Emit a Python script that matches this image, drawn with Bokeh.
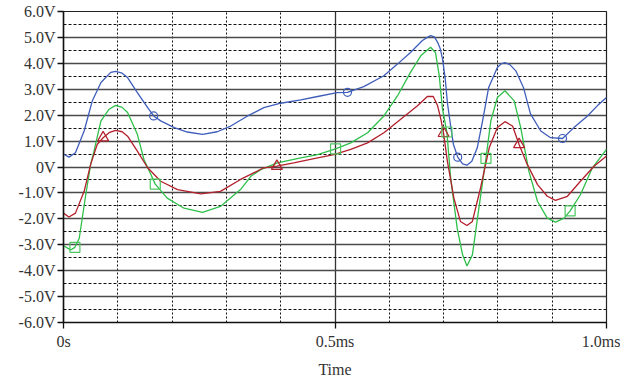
from bokeh.plotting import figure
from bokeh.models import FixedTicker, CustomJSTickFormatter
from bokeh.embed import file_html
from bokeh.resources import INLINE

# ---- data (time in ms, voltage in V) ----
t_blue = [0.0, 0.010, 0.022, 0.038, 0.053, 0.069, 0.087, 0.096, 0.108, 0.118, 0.136, 0.155, 0.166,
          0.179, 0.204, 0.228, 0.256, 0.283, 0.308, 0.339, 0.369, 0.400, 0.437, 0.468, 0.504,
          0.523, 0.553, 0.590, 0.615, 0.639, 0.661, 0.670, 0.676, 0.683, 0.689, 0.694, 0.698, 0.703,
          0.707, 0.713, 0.718, 0.726, 0.735, 0.743, 0.752, 0.762, 0.772, 0.783, 0.799, 0.806, 0.813,
          0.822, 0.833, 0.847, 0.860, 0.879, 0.897, 0.919, 0.940, 0.965, 0.983, 1.0]
v_blue = [0.50, 0.38, 0.55, 1.39, 2.55, 3.26, 3.65, 3.69, 3.62, 3.45, 2.87, 2.29, 1.97,
          1.78, 1.52, 1.35, 1.26, 1.36, 1.58, 1.97, 2.29, 2.46, 2.59, 2.72, 2.87,
          2.88, 3.10, 3.52, 3.97, 4.42, 4.88, 5.00, 5.07, 5.02, 4.81, 4.55, 4.17, 3.40,
          2.48, 1.58, 0.88, 0.38, 0.12, 0.07, 0.22, 0.74, 1.80, 3.07, 3.84, 3.98, 4.03,
          3.95, 3.71, 3.07, 2.05, 1.39, 1.13, 1.10, 1.52, 1.97, 2.36, 2.68]

t_red = [0.0, 0.010, 0.022, 0.038, 0.050, 0.062, 0.073, 0.085, 0.096, 0.108, 0.118, 0.136, 0.155, 0.179,
         0.210, 0.253, 0.289, 0.326, 0.369, 0.393, 0.424, 0.468, 0.498, 0.529, 0.560, 0.590,
         0.621, 0.652, 0.670, 0.681, 0.689, 0.695, 0.700, 0.707, 0.719, 0.731, 0.743, 0.753,
         0.768, 0.784, 0.799, 0.813, 0.827, 0.839, 0.854, 0.873, 0.891, 0.906, 0.928, 0.952,
         0.977, 1.0]
v_red = [-1.78, -1.93, -1.78, -0.94, 0.10, 0.87, 1.13, 1.34, 1.41, 1.36, 1.19, 0.61, -0.03, -0.55,
         -0.87, -1.04, -0.94, -0.48, -0.03, 0.03, 0.16, 0.35, 0.48, 0.68, 0.93, 1.32,
         1.84, 2.36, 2.72, 2.72, 2.36, 1.84, 1.30, 0.22, -1.20, -2.10, -2.26, -2.10,
         -0.81, 0.74, 1.52, 1.75, 1.58, 0.87, 0.10, -0.68, -1.13, -1.29, -1.13, -0.55,
         0.03, 0.42]

t_green = [0.0, 0.013, 0.021, 0.029, 0.041, 0.050, 0.056, 0.069, 0.084, 0.096, 0.108, 0.118, 0.136,
           0.148, 0.169, 0.191, 0.222, 0.256, 0.289, 0.326, 0.345, 0.363, 0.394, 0.437, 0.468,
           0.501, 0.529, 0.560, 0.590, 0.615, 0.639, 0.658, 0.676, 0.685, 0.692, 0.698, 0.706,
           0.713, 0.725, 0.735, 0.743, 0.753, 0.765, 0.778, 0.787, 0.799, 0.813, 0.830, 0.842,
           0.857, 0.873, 0.891, 0.906, 0.922, 0.933, 0.952, 0.974, 1.0]
v_green = [-3.04, -3.20, -3.10, -2.75, -1.07, 0.10, 0.60, 1.78, 2.23, 2.38, 2.30, 2.10, 1.26,
           0.30, -0.66, -1.20, -1.59, -1.75, -1.52, -0.87, -0.36, -0.10, 0.16, 0.35, 0.48,
           0.70, 0.93, 1.32, 1.97, 2.74, 3.65, 4.29, 4.62, 4.42, 3.52, 2.23, 1.35,
           -0.42, -2.36, -3.39, -3.82, -3.39, -1.59, 0.33, 1.78, 2.68, 2.94, 2.55, 1.52,
           -0.16, -1.33, -1.97, -2.13, -1.97, -1.69, -1.07, -0.03, 0.68]

# marker positions
mt_blue = [0.166, 0.523, 0.726, 0.919]
mv_blue = [1.97, 2.88, 0.38, 1.10]
mt_red = [0.073, 0.393, 0.700, 0.839]
mv_red = [1.13, 0.03, 1.30, 0.87]
mt_green = [0.021, 0.169, 0.501, 0.706, 0.778, 0.933]
mv_green = [-3.10, -0.66, 0.70, 1.35, 0.33, -1.69]

y_ticks = [-6, -5, -4, -3, -2, -1, 0, 1, 2, 3, 4, 5, 6]
y_half = [-5.5, -4.5, -3.5, -2.5, -1.5, -0.5, 0.5, 1.5, 2.5, 3.5, 4.5, 5.5]
x_ticks = [0.0, 0.5, 1.0]
x_grid_major = [0.5]
x_grid_minor = [0.1, 0.2, 0.3, 0.4, 0.6, 0.7, 0.8, 0.9]
x_label = "Time"

BLUE = "#3F5DBA"
RED = "#B3202C"
GREEN = "#2FBF4A"
FONT = "Liberation Serif"

p = figure(frame_width=543, frame_height=311, x_range=(0, 1.0), y_range=(-6, 6),
           output_backend="svg", toolbar_location=None,
           min_border_left=63, min_border_right=14, min_border_top=11, min_border_bottom=52)
p.background_fill_color = "white"
p.border_fill_color = "white"
p.outline_line_color = "#222222"
p.outline_line_width = 1.2

# grids
p.ygrid.ticker = FixedTicker(ticks=y_ticks, minor_ticks=y_half)
p.ygrid.grid_line_color = "#4a4a4a"
p.ygrid.grid_line_width = 1.6
p.ygrid.minor_grid_line_color = "#111111"
p.ygrid.minor_grid_line_dash = "3 2"
p.ygrid.minor_grid_line_width = 1.0

p.xgrid.ticker = FixedTicker(ticks=x_grid_major, minor_ticks=x_grid_minor)
p.xgrid.grid_line_color = "#333333"
p.xgrid.grid_line_width = 1.3
p.xgrid.minor_grid_line_color = "#111111"
p.xgrid.minor_grid_line_dash = "2 2"
p.xgrid.minor_grid_line_width = 1.0

# axes
p.yaxis.ticker = FixedTicker(ticks=y_ticks)
p.yaxis.formatter = CustomJSTickFormatter(code="return tick == 0 ? '0V' : tick.toFixed(1) + 'V';")
p.xaxis.ticker = FixedTicker(ticks=x_ticks)
p.xaxis.formatter = CustomJSTickFormatter(code="return tick == 0 ? '0s' : tick.toFixed(1) + 'ms';")
p.xaxis.axis_label = x_label
for ax in (p.xaxis, p.yaxis):
    ax.axis_line_color = "#111111"
    ax.axis_line_width = 1.5
    ax.major_tick_line_color = "#111111"
    ax.major_tick_line_width = 1.3
    ax.major_tick_out = 6
    ax.major_tick_in = 0
    ax.minor_tick_line_color = None
    ax.major_label_text_font = FONT
    ax.major_label_text_font_size = "16px"
    ax.major_label_text_color = "#333333"
    ax.axis_label_text_font = FONT
    ax.axis_label_text_font_size = "16px"
    ax.axis_label_text_font_style = "normal"
    ax.axis_label_text_color = "#333333"
p.yaxis.major_label_standoff = 2
p.xaxis.major_label_standoff = 4
p.xaxis.axis_label_standoff = 8

# lines
p.line(t_blue, v_blue, line_color=BLUE, line_width=1.3)
p.line(t_green, v_green, line_color=GREEN, line_width=1.3)
p.line(t_red, v_red, line_color=RED, line_width=1.3)

# markers
p.scatter(mt_blue, mv_blue, marker="circle", size=8, fill_color=None, line_color=BLUE, line_width=1.2)
p.scatter(mt_red, mv_red, marker="triangle", size=11, fill_color=None, line_color=RED, line_width=1.2)
p.scatter(mt_green, mv_green, marker="square", size=10, fill_color=None, line_color="#4CC760", line_width=1.2)

open("out.html", "w").write(file_html(p, INLINE))
